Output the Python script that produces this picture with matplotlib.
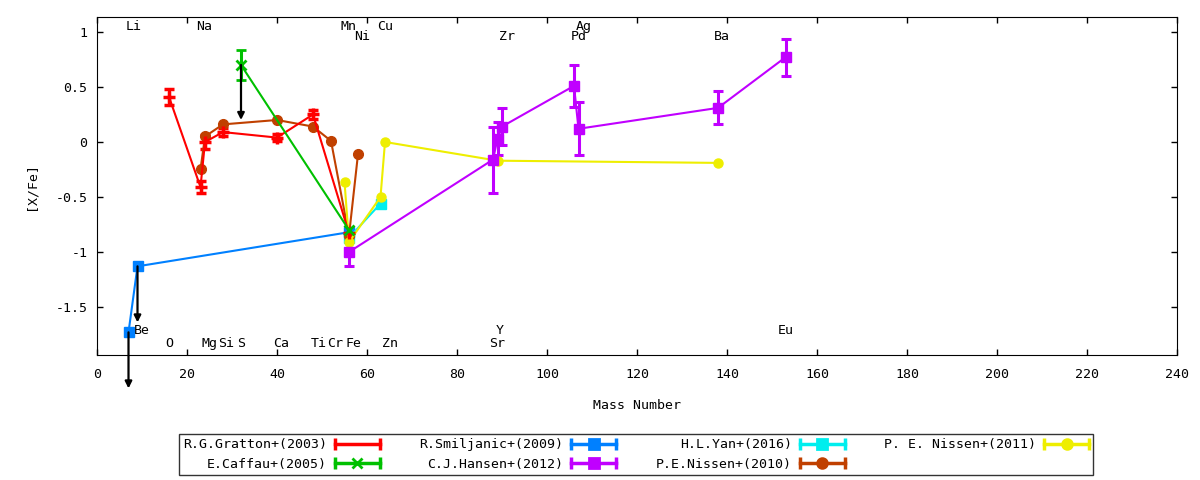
import numpy as np
import matplotlib
matplotlib.use("Agg")
import matplotlib.pyplot as plt
from matplotlib.lines import Line2D
from matplotlib.legend_handler import HandlerLine2D

plt.rcParams['font.family'] = ['DejaVu Sans Mono', 'DejaVu Sans']
plt.rcParams['font.size'] = 9.5

# ---- data (mass number, [X/Fe], error) ----
gratton_x = [16, 23, 24, 28, 40, 48, 56]
gratton_y = [0.41, -0.41, 0.0, 0.09, 0.04, 0.25, -0.83]
gratton_e = [0.07, 0.055, 0.06, 0.04, 0.03, 0.04, 0.0]

caffau_x = [32, 56]
caffau_y = [0.70, -0.80]
caffau_e = [0.14, 0.0]

smiljanic_x = [7, 9, 56]
smiljanic_y = [-1.73, -1.13, -0.82]

hansen_x = [56, 88, 89, 90, 106, 107, 138, 153]
hansen_y = [-1.00, -0.16, 0.03, 0.14, 0.51, 0.12, 0.31, 0.77]
hansen_e = [0.13, 0.30, 0.15, 0.17, 0.19, 0.24, 0.15, 0.17]

yan_x = [56, 63]
yan_y = [-0.87, -0.56]

nissen10_x = [23, 24, 28, 40, 48, 52, 56, 58]
nissen10_y = [-0.25, 0.05, 0.16, 0.20, 0.14, 0.01, -0.85, -0.11]

nissen11_x = [55, 56, 63, 64, 89, 138]
nissen11_y = [-0.36, -0.91, -0.50, 0.00, -0.17, -0.19]

# upper limits drawn as arrows: (x, from, to)
limit_x = [32, 9, 7]
limit_from = [0.70, -1.13, -1.73]
limit_to = [0.20, -1.64, -2.24]

# element names and where their labels sit
elem_names = ['Li', 'Na', 'Mn', 'Cu', 'Ag',
              'Ni', 'Zr', 'Pd', 'Ba',
              'Be', 'Y', 'Eu',
              'O', 'Mg', 'Si', 'S', 'Ca', 'Ti', 'Cr', 'Fe', 'Zn', 'Sr']
elem_lx = [8.2, 23.9, 55.9, 64.1, 108.2,
           59.0, 91.0, 107.0, 138.9,
           9.9, 89.4, 153.1,
           16.1, 25.1, 28.8, 32.1, 41.0, 49.2, 53.0, 57.1, 65.1, 88.9]
elem_ly = [1.048] * 5 + [0.957] * 4 + [-1.712] * 3 + [-1.835] * 10

c_red = '#ff0000'
c_green = '#00c000'
c_blue = '#0080ff'
c_purple = '#c000ff'
c_cyan = '#00eeee'
c_brown = '#c04000'
c_yellow = '#eeee00'

fig = plt.figure(figsize=(12, 4.8), dpi=100)
ax = fig.add_axes([97/1200, 1-355/480, 1080/1200, 338/480])

eb = dict(elinewidth=2.2, capsize=3.3, capthick=2.2, lw=1.5)

ax.errorbar(gratton_x, gratton_y, yerr=gratton_e, color=c_red, marker='+',
            ms=9, mew=2.5, **eb)
ax.errorbar(caffau_x, caffau_y, yerr=caffau_e, color=c_green, marker='x',
            ms=7, mew=2, **eb)
ax.plot(smiljanic_x, smiljanic_y, color=c_blue, marker='s', ms=7, lw=1.5)
ax.errorbar(hansen_x, hansen_y, yerr=hansen_e, color=c_purple, marker='s',
            ms=7, **eb)
ax.plot(yan_x, yan_y, color=c_cyan, marker='s', ms=7, lw=1.5)
ax.plot(nissen10_x, nissen10_y, color=c_brown, marker='o', ms=7, lw=1.5)
ax.plot(nissen11_x, nissen11_y, color=c_yellow, marker='o', ms=6.5, lw=1.5)

for x, y0, y1 in zip(limit_x, limit_from, limit_to):
    ax.annotate('', xy=(x, y1), xytext=(x, y0), annotation_clip=False,
                arrowprops=dict(arrowstyle='-|>', color='black', lw=1.6,
                                mutation_scale=10, shrinkA=0, shrinkB=0))

for name, lx, ly in zip(elem_names, elem_lx, elem_ly):
    ax.text(lx, ly, name, ha='center', va='center')

ax.set_xlim(0, 240)
ax.set_ylim(-1.936, 1.136)
ax.set_xticks(np.arange(0, 241, 20))
ax.set_yticks([-1.5, -1, -0.5, 0, 0.5, 1])
ax.set_yticklabels(['-1.5', '-1', '-0.5', '0', '0.5', '1'])
ax.tick_params(direction='in', top=True, right=True, length=4.5, width=1)
ax.tick_params(axis='x', pad=9)
ax.tick_params(axis='y', pad=7)
ax.set_xlabel('Mass Number', labelpad=13)
ax.set_ylabel('[X/Fe]', labelpad=13)

# legend with horizontal error bar samples, text before sample
names = ['R.G.Gratton+(2003)', 'E.Caffau+(2005)', 'R.Smiljanic+(2009)',
         'C.J.Hansen+(2012)', 'H.L.Yan+(2016)', 'P.E.Nissen+(2010)',
         'P. E. Nissen+(2011)']
cols = [c_red, c_green, c_blue, c_purple, c_cyan, c_brown, c_yellow]
marks = ['None', 'x', 's', 's', 's', 'o', 'o']
handles = []
hmap = {}
for c, m in zip(cols, marks):
    bar = Line2D([], [], color=c, lw=2.5, marker='|', ms=9, mew=2.5)
    mid = Line2D([], [], color=c, ls='none', marker=m, ms=7, mew=2)
    hmap[bar] = HandlerLine2D(numpoints=2, marker_pad=0)
    hmap[mid] = HandlerLine2D(numpoints=1)
    handles.append((bar, mid))

leg = fig.legend(handles, names, handler_map=hmap, ncol=4, markerfirst=False,
                 loc='center', bbox_to_anchor=(636/1200, 1-454.5/480),
                 frameon=True, fancybox=False, edgecolor='black',
                 handlelength=3.4, handletextpad=0.6, columnspacing=3.0,
                 borderpad=0.3, labelspacing=0.5)
leg.get_frame().set_linewidth(1)

fig.savefig('out.png', dpi=100)
